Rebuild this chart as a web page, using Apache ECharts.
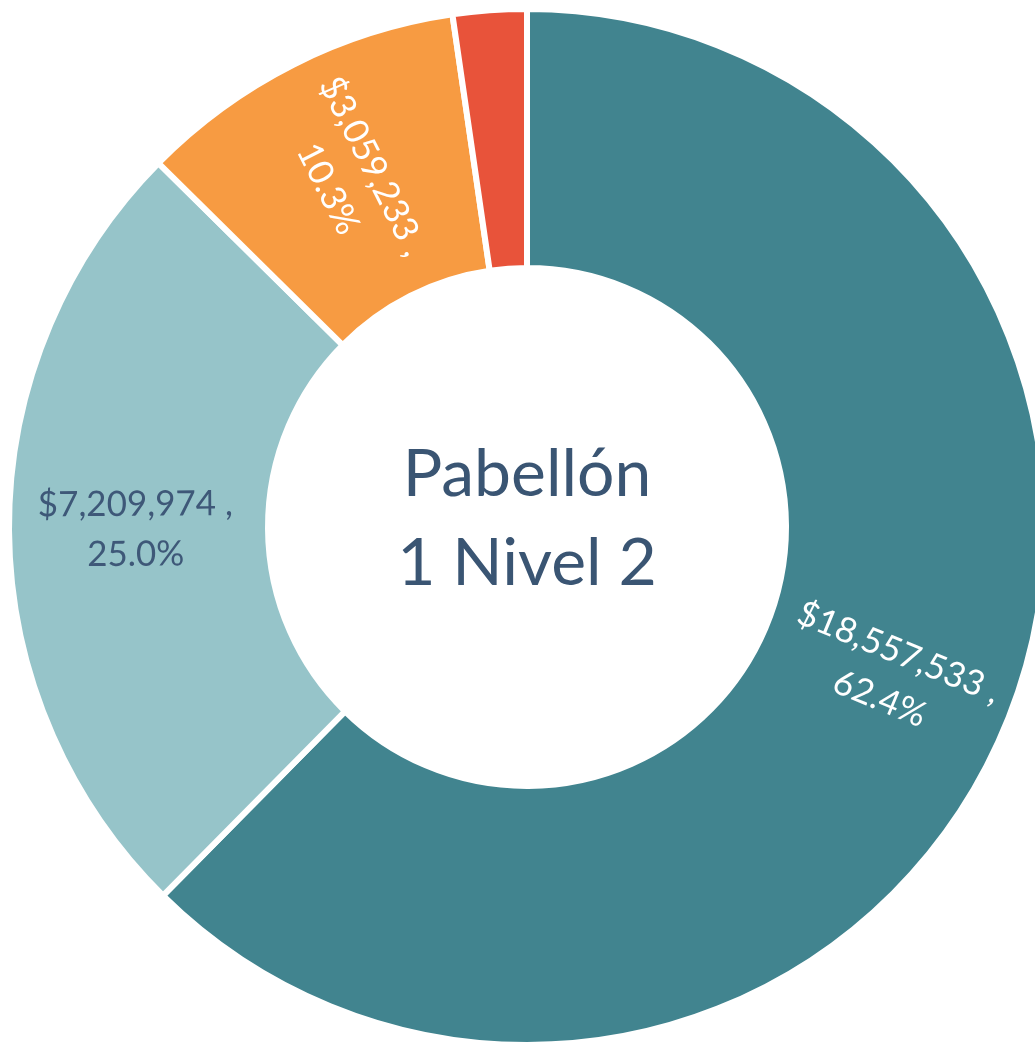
<!DOCTYPE html>
<html>
<head>
<meta charset="utf-8">
<script src="https://cdn.jsdelivr.net/npm/echarts@6/dist/echarts.min.js"></script>
<style>
html,body{margin:0;padding:0;background:#fff;}
#c{width:1035px;height:1042px;}
</style>
</head>
<body>
<div id="c"></div>
<script>
const categories = ['Segmento A', 'Segmento B', 'Segmento C', 'Segmento D'];
const percents = [62.4, 25.0, 10.3, 2.3];
const amounts = ['$18,557,533', '$7,209,974', '$3,059,233', ''];
const colors = ['#41848F', '#96C4C9', '#F79B42', '#E8533A'];
const labelColors = ['#ffffff', '#3E5878', '#ffffff', '#ffffff'];
const centerText = 'Pabellón\n1 Nivel 2';

const chart = echarts.init(document.getElementById('c'));
const data = categories.map((name, i) => ({
  name: name,
  value: percents[i],
  itemStyle: { color: colors[i] },
  label: { show: amounts[i] !== '', color: labelColors[i] }
}));

chart.setOption({
  animation: false,
  series: [{
    type: 'pie',
    center: [527, 527],
    radius: [259, 518],
    startAngle: 90,
    clockwise: true,
    avoidLabelOverlap: false,
    itemStyle: { borderColor: '#ffffff', borderWidth: 6 },
    label: {
      position: 'inside',
      rotate: 'radial',
      fontFamily: 'Lato',
      fontSize: 35,
      lineHeight: 50,
      align: 'center',
      formatter: p => amounts[p.dataIndex] + ' ,\n' + percents[p.dataIndex].toFixed(1) + '%'
    },
    labelLine: { show: false },
    emphasis: { disabled: true },
    data: data
  }],
  graphic: [{
    type: 'text',
    x: 527,
    y: 519,
    style: {
      text: centerText,
      fontFamily: 'Lato',
      fontSize: 66,
      lineHeight: 89,
      fill: '#3A5573',
      align: 'center',
      verticalAlign: 'middle'
    }
  }]
});
</script>
</body>
</html>
